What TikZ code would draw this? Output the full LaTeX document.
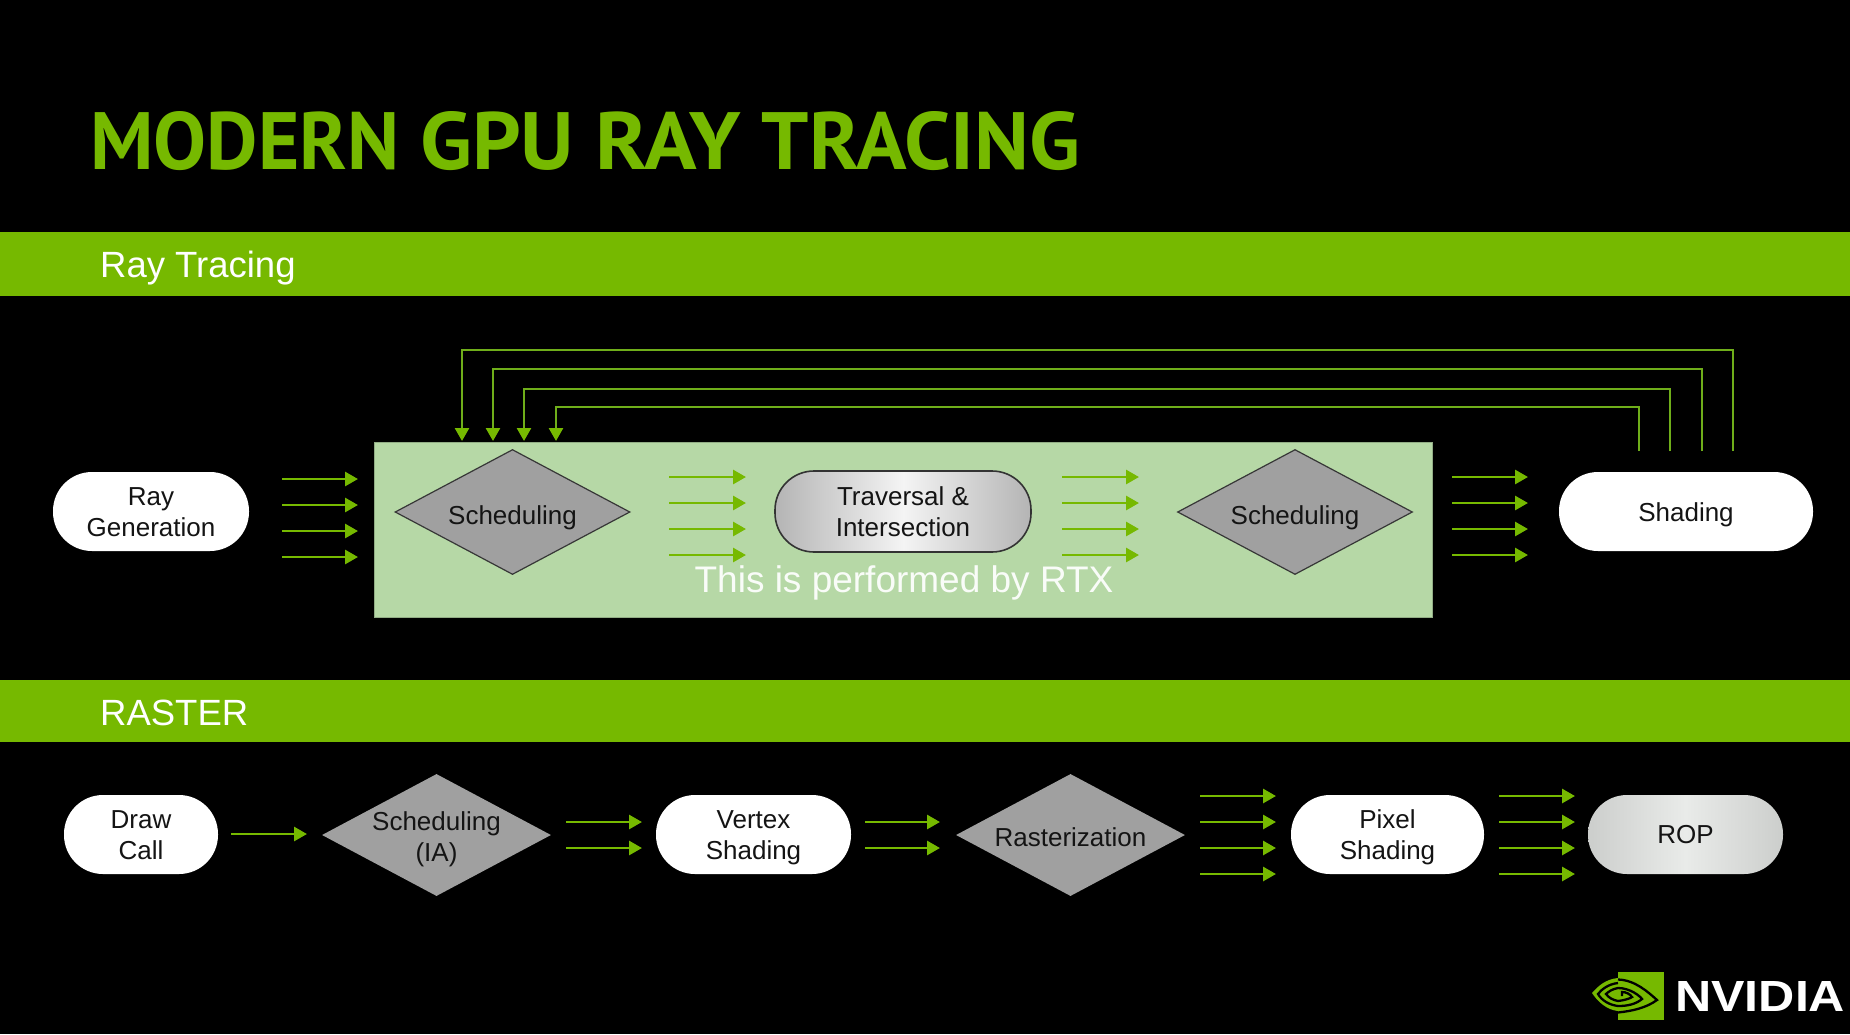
\documentclass[tikz,border=0pt]{standalone}
\usepackage{fontspec}
\usepackage{graphicx}
\setmainfont{Liberation Sans}
\newfontfamily\titlefont{PT Sans}
\usetikzlibrary{shapes.geometric,arrows.meta}
\definecolor{nvgreen}{HTML}{76B900}
\definecolor{linkgreen}{HTML}{6FAE1A}
\definecolor{panelgreen}{HTML}{B6D8A6}
\definecolor{diamgray}{HTML}{A0A0A0}
\definecolor{inkdark}{HTML}{141414}
\definecolor{travedge}{HTML}{B4B4B4}
\definecolor{travmid}{HTML}{F4F4F4}
\definecolor{ropedge}{HTML}{CCCECC}
\definecolor{ropmid}{HTML}{E9EBE9}
\tikzset{
  x=1pt,y=-1pt,
  band/.style={fill=nvgreen,draw=none},
  bandlabel/.style={text=white,font=\fontsize{36.5}{40}\selectfont,anchor=west,inner sep=0},
  pill/.style={rounded corners=39pt,inner sep=0,minimum height=79pt,text=inkdark,font=\fontsize{26}{31}\selectfont},
  whitepill/.style={pill,fill=white},
  dia/.style={diamond,aspect=1.88,inner sep=0,fill=diamgray,text=inkdark,font=\fontsize{26}{31}\selectfont},
  flowarrow/.style={draw=nvgreen,line width=2.8pt,-{Triangle[length=13pt,width=14pt]}},
  looplink/.style={draw=linkgreen,line width=2.6pt},
  looparrow/.style={looplink,-{Triangle[length=13pt,width=14pt,color=nvgreen]}},
  logoline/.style={draw=black,line width=2.3pt,fill=none},
}
% text placed by hand on the node's centre: #1 = distance lowered, #2 = content
\newcommand{\lbl}[2]{\raisebox{0pt}[0pt][0pt]{\raisebox{-#1}{#2}}}
\newcommand{\twolines}[2]{\begin{tabular}{@{}c@{}}#1\\#2\end{tabular}}
\newcommand{\arrowrow}[4]{%
  \foreach \yy [count=\ii] in {#4}{%
    \coordinate (#1s\ii) at (#2,\yy);
    \coordinate (#1e\ii) at (#3,\yy);
    \draw[flowarrow] (#1s\ii) -- (#1e\ii);
  }%
}
\begin{document}
\begin{tikzpicture}
\useasboundingbox (0,0) rectangle (1850,1034);
\fill[black] (0,0) rectangle (1850,1034);

% title
\node[anchor=south west,inner sep=0,text=nvgreen] (title) at (90,171)
  {\resizebox{990pt}{58pt}{\titlefont\bfseries \scalebox{0.95}[1]{MODERN} \scalebox{1.02}[1]{GPU} \scalebox{1.04}[1]{RAY} TRACING}};

% bands
\fill[band] (0,232) rectangle (1850,296);
\node[bandlabel] (bandrt) at (100,268.5) {Ray Tracing};
\fill[band] (0,680) rectangle (1850,742);
\node[bandlabel] (bandrs) at (100,713) {RASTER};

% RTX panel
\node[fill=panelgreen,draw=panelgreen!80!black,line width=0.6pt,minimum width=1058pt,minimum height=175pt,inner sep=0] (panel) at (903,529.5) {};
\node[text=white!92!panelgreen,font=\fontsize{37}{40}\selectfont,inner sep=0] (rtxnote) at (904,582.5) {This is performed by RTX};

% ray tracing row
\node[whitepill,minimum width=196pt] (raygen) at (151,511.5) {\lbl{9.3pt}{\twolines{Ray}{Generation}}};
\node[dia,draw=inkdark!85,line width=1.2pt,minimum width=235pt,minimum height=125pt] (sched1) at (512.5,512) {\lbl{12pt}{Scheduling}};
\node[pill,draw=black!80,line width=1.6pt,left color=travedge,right color=travedge,middle color=travmid,minimum width=256pt,minimum height=81pt] (trav) at (903,511.5) {\lbl{9.3pt}{\twolines{Traversal \&}{Intersection}}};
\node[dia,draw=inkdark!85,line width=1.2pt,minimum width=235pt,minimum height=125pt] (sched2) at (1295,512) {\lbl{12pt}{Scheduling}};
\node[whitepill,minimum width=254pt] (shading) at (1686,511.5) {\lbl{9.5pt}{Shading}};

\arrowrow{ra}{282}{358}{479,505,531,557}
\arrowrow{rb}{669}{746}{477,503,529,555}
\arrowrow{rc}{1062}{1139}{477,503,529,555}
\arrowrow{rd}{1452}{1528}{477,503,529,555}

% feedback loops
\foreach \sx/\tx/\ly [count=\k] in {1733/462/350,1702/493/369,1670/524/389,1639/556/407}{
  \coordinate (ls\k) at (\sx,451);
  \coordinate (lu\k) at (\sx,\ly);
  \coordinate (lv\k) at (\tx,\ly);
  \coordinate (lt\k) at (\tx,441);
  \draw[looparrow] (ls\k) -- (lu\k) -- (lv\k) -- (lt\k);
}

% raster row
\node[whitepill,minimum width=154pt] (draw) at (141,834.5) {\lbl{9.3pt}{\twolines{Draw}{Call}}};
\node[dia,minimum width=229pt,minimum height=122pt] (schedia) at (436.5,835) {\lbl{10.8pt}{\twolines{Scheduling}{(IA)}}};
\node[whitepill,minimum width=195pt] (vertex) at (753.5,834.5) {\lbl{9.3pt}{\twolines{Vertex}{Shading}}};
\node[dia,minimum width=229pt,minimum height=122pt] (raster) at (1070.5,835) {\lbl{11.7pt}{Rasterization}};
\node[whitepill,minimum width=193pt] (pixel) at (1387.5,834.5) {\lbl{9.3pt}{\twolines{Pixel}{Shading}}};
\node[pill,left color=ropedge,right color=ropedge,middle color=ropmid,minimum width=195pt] (rop) at (1685.5,834.5) {\lbl{9pt}{ROP}};

\arrowrow{sa}{231}{307}{834}
\arrowrow{sb}{566}{642}{822,848}
\arrowrow{sc}{865}{940}{822,848}
\arrowrow{sd}{1200}{1276}{796,822,848,874}
\arrowrow{se}{1499}{1575}{796,822,848,874}

% logo
\fill[nvgreen] (1618,972) rectangle (1664,1020);
\fill[nvgreen] (1618,978) .. controls (1606,979) and (1598,986) .. (1592,993) .. controls (1598,1002) and (1607,1010) .. (1618,1011) -- cycle;
\draw[logoline] (1618,979.5) .. controls (1635,980) and (1648,992) .. (1657,1000) .. controls (1646,1008) and (1632,1011) .. (1618,1012.5);
\draw[logoline] (1618,983) .. controls (1608,984) and (1601,990) .. (1598,994) .. controls (1602,1001) and (1610,1005) .. (1618,1006);
\draw[logoline] (1618,988) .. controls (1630,988) and (1640,996) .. (1642,999) .. controls (1636,1004) and (1628,1006) .. (1618,1006);
\draw[logoline] (1618,988) .. controls (1612,989) and (1608,992) .. (1606,994) .. controls (1609,998) and (1613,1000) .. (1618,1001);
\draw[logoline] (1618,1001) .. controls (1626,1000) and (1631,998) .. (1632,997) .. controls (1630,994) and (1626,992) .. (1622,992) -- (1622,996);
\node[anchor=south west,inner sep=0,text=white] (nvlogo) at (1675,1012)
  {\resizebox{170pt}{30pt}{\bfseries NVIDIA}};
\end{tikzpicture}
\end{document}
